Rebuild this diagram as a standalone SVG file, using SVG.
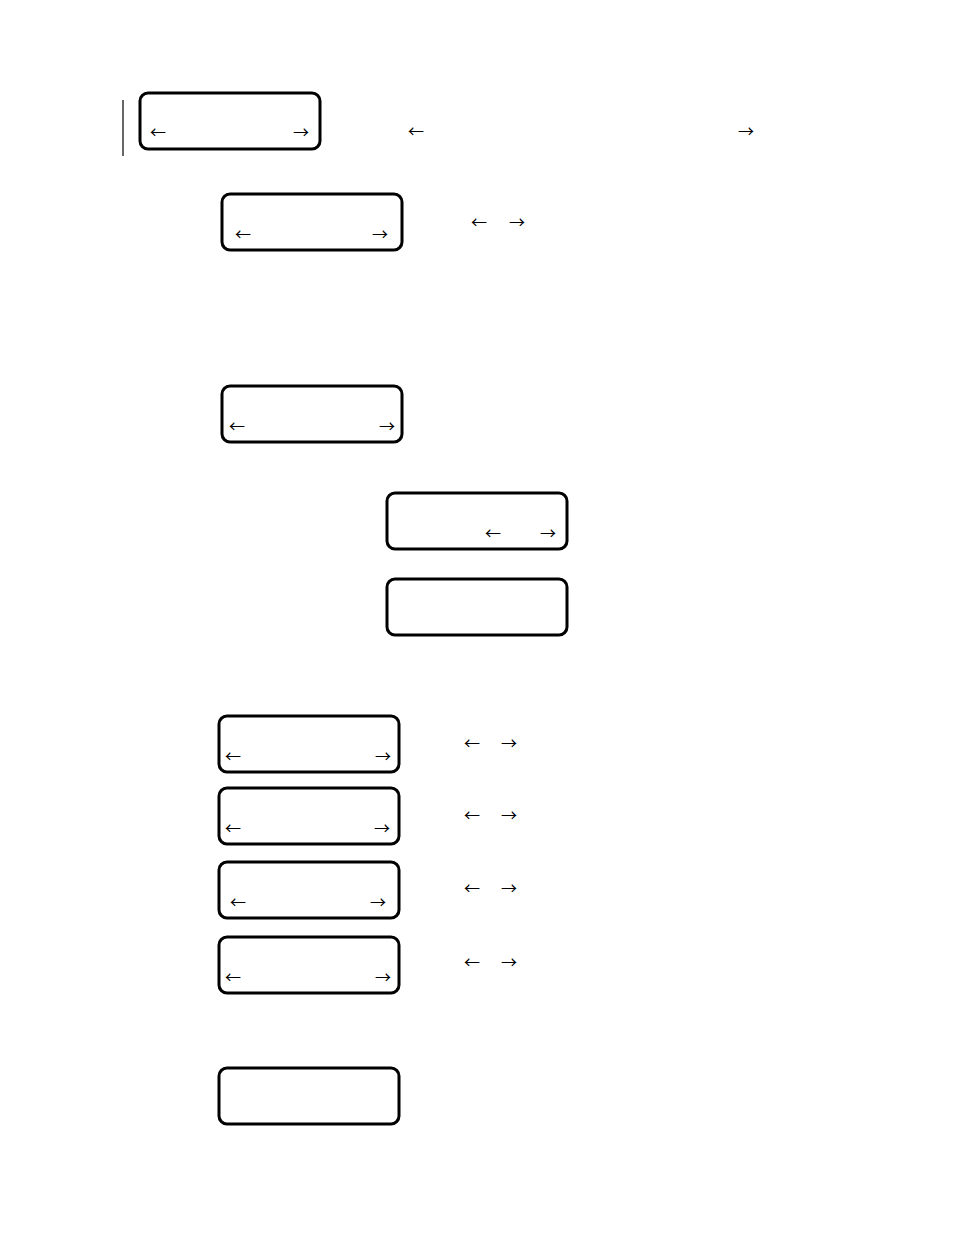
<svg xmlns="http://www.w3.org/2000/svg" width="954" height="1235" viewBox="0 0 954 1235">
<style>
.b{fill:#fff;stroke:#000;stroke-width:3}
.t{font-family:"Noto Sans CJK JP",sans-serif;font-size:16px;text-anchor:middle;fill:#000}
</style>
<rect width="954" height="1235" fill="#fff"/>
<g id="bar"><line x1="123" y1="100" x2="123" y2="156" stroke="#000" stroke-width="1.2"/></g>
<g id="n1"><rect class="b" x="140" y="93" width="180" height="56" rx="8"/><text class="t" x="158" y="138">←</text><text class="t" x="301" y="138">→</text></g>
<g id="l1"><text class="t" x="416" y="137">←</text><text class="t" x="746" y="137">→</text></g>
<g id="n2"><rect class="b" x="222" y="194" width="180" height="56" rx="8"/><text class="t" x="243" y="240">←</text><text class="t" x="380" y="240">→</text></g>
<g id="l2"><text class="t" x="479" y="228">←</text><text class="t" x="517" y="228">→</text></g>
<g id="n3"><rect class="b" x="222" y="386" width="180" height="56" rx="8"/><text class="t" x="237" y="432">←</text><text class="t" x="387" y="432">→</text></g>
<g id="n4"><rect class="b" x="387" y="493" width="180" height="56" rx="8"/><text class="t" x="493" y="539">←</text><text class="t" x="548" y="539">→</text></g>
<g id="n5"><rect class="b" x="387" y="579" width="180" height="56" rx="8"/></g>
<g id="n6"><rect class="b" x="219" y="716" width="180" height="56" rx="8"/><text class="t" x="233" y="762">←</text><text class="t" x="383" y="762">→</text></g>
<g id="l6"><text class="t" x="472" y="749">←</text><text class="t" x="509" y="749">→</text></g>
<g id="n7"><rect class="b" x="219" y="788" width="180" height="56" rx="8"/><text class="t" x="233" y="834">←</text><text class="t" x="382" y="834">→</text></g>
<g id="l7"><text class="t" x="472" y="821">←</text><text class="t" x="509" y="821">→</text></g>
<g id="n8"><rect class="b" x="219" y="862" width="180" height="56" rx="8"/><text class="t" x="238" y="908">←</text><text class="t" x="378" y="908">→</text></g>
<g id="l8"><text class="t" x="472" y="894">←</text><text class="t" x="509" y="894">→</text></g>
<g id="n9"><rect class="b" x="219" y="937" width="180" height="56" rx="8"/><text class="t" x="233" y="983">←</text><text class="t" x="383" y="983">→</text></g>
<g id="l9"><text class="t" x="472" y="968">←</text><text class="t" x="509" y="968">→</text></g>
<g id="n10"><rect class="b" x="219" y="1068" width="180" height="56" rx="8"/></g>
<g id="connectors"></g>
</svg>
